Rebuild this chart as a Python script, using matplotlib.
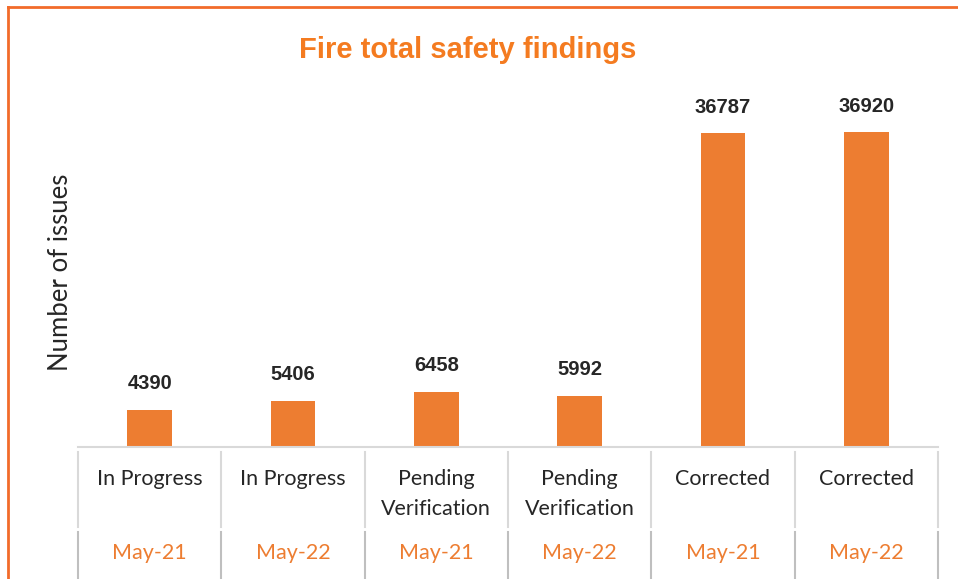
import matplotlib
matplotlib.use("Agg")
import matplotlib.pyplot as plt
from matplotlib.lines import Line2D
import matplotlib.transforms as mtransforms

statuses = ["In Progress", "In Progress", "Pending\nVerification",
            "Pending\nVerification", "Corrected", "Corrected"]
periods = ["May-21", "May-22", "May-21", "May-22", "May-21", "May-22"]
issues = [4390, 5406, 6458, 5992, 36787, 36920]

BAR = "#ED7D31"
TITLE = "#F47B20"
GRID = "#D9D9D9"

fig = plt.figure(figsize=(9.58, 5.79), dpi=100)
ax = fig.add_axes([78 / 958, 132 / 579, 860 / 958, 358 / 579])

x = list(range(len(issues)))
bars = ax.bar(x, issues, width=0.31, color=BAR, zorder=2)
ax.set_xlim(-0.5, len(issues) - 0.5)
ax.set_ylim(0, 42000)

for b, v in zip(bars, issues):
    ax.annotate(str(v), (b.get_x() + b.get_width() / 2, v),
                xytext=(0, 12), textcoords="offset points",
                ha="center", va="bottom", fontsize=14.5, fontweight="bold",
                family="Liberation Sans", color="#262626")

for s in ["top", "right", "left"]:
    ax.spines[s].set_visible(False)
ax.spines["bottom"].set_color(GRID)
ax.spines["bottom"].set_linewidth(1.5)
ax.set_xticks([])
ax.set_yticks([])

# two-level category axis below the plot
trans = mtransforms.blended_transform_factory(ax.transData, ax.transAxes)
px = 1 / 358
for i in range(len(issues) + 1):
    xs = i - 0.5
    ax.add_line(Line2D([xs, xs], [-5 * px, -80 * px], color=GRID, lw=1.5,
                       transform=trans, clip_on=False))
    ax.add_line(Line2D([xs, xs], [-85 * px, -140 * px], color="#BFBFBF", lw=1.5,
                       transform=trans, clip_on=False))

for i, (s, p) in enumerate(zip(statuses, periods)):
    ax.text(i, -22 * px, s, transform=trans, ha="center", va="top",
            fontsize=15.5, family="Lato", color="#262626", linespacing=1.6)
    ax.text(i, -106 * px, p, transform=trans, ha="center", va="center",
            fontsize=15.5, family="Lato", color=BAR)

fig.text(60 / 958, 1 - 272 / 579, "Number of issues", rotation=90,
         ha="center", va="center", fontsize=18.5, family="Lato", color="#262626")

fig.text(468 / 958, 1 - 50 / 579, "Fire total safety findings", ha="center",
         va="center", fontsize=21, fontweight="bold",
         family="Liberation Sans", color=TITLE)

# orange frame on top and left
fig.add_artist(Line2D([8 / 958, 8 / 958], [0, 1 - 7 / 579], color="#F26B2A",
                      lw=2, transform=fig.transFigure))
fig.add_artist(Line2D([8 / 958, 1], [1 - 7 / 579, 1 - 7 / 579], color="#F26B2A",
                      lw=2, transform=fig.transFigure))

fig.savefig("out.png", dpi=100)
